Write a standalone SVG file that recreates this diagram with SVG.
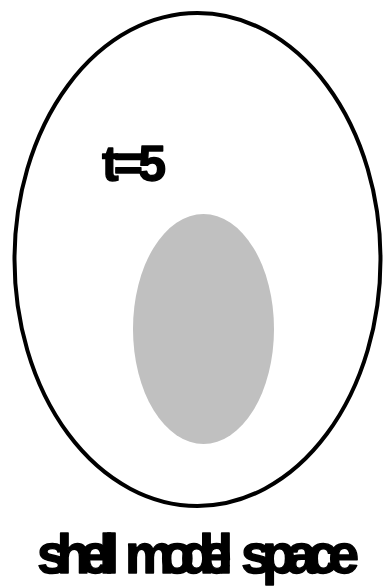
<svg xmlns="http://www.w3.org/2000/svg" width="383" height="587" viewBox="0 0 383 587">
<style>
.lbl{font-family:"Liberation Sans",Arial,sans-serif;font-weight:bold;fill:#000;stroke:#000;stroke-width:1.4px;stroke-linejoin:round}
.big{font-size:55px}
</style>
<rect width="383" height="587" fill="#fff"/>
<g id="outer">
<ellipse cx="197.5" cy="259.5" rx="183" ry="246.5" fill="none" stroke="#000" stroke-width="4"/>
</g>
<g id="inner">
<ellipse cx="203.5" cy="329" rx="70.5" ry="115" fill="#c0c0c0"/>
</g>
<g id="label-t">
<text class="lbl" x="102" y="181" font-size="50" textLength="64" lengthAdjust="spacing">t=5</text>
</g>
<g id="label-space">
<text class="lbl big" x="37" y="573" textLength="82" lengthAdjust="spacing">shell</text>
<text class="lbl big" x="125" y="573" textLength="108" lengthAdjust="spacing">model</text>
<text class="lbl big" x="241" y="573" textLength="118" lengthAdjust="spacing">space</text>
</g>
<g id="connectors"/>
</svg>
